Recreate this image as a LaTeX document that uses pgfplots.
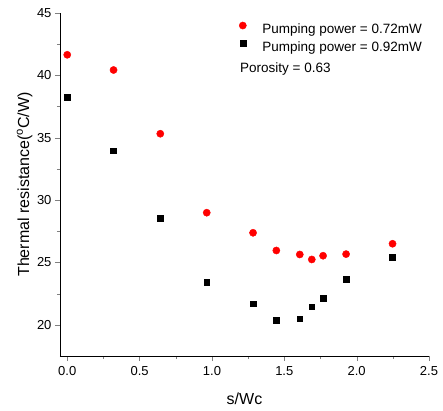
\documentclass[border=0pt]{standalone}
\usepackage{pgfplots}
\pgfplotsset{compat=1.18}
\usepackage{fontspec}
\setmainfont{Liberation Sans}
\begin{document}
\begin{tikzpicture}
\begin{axis}[
  scale only axis,
  width=369pt, height=343pt,
  xmin=-0.05, xmax=2.5,
  ymin=17.5, ymax=45,
  axis x line*=bottom, axis y line*=left,
  tick align=outside,
  xtick={0,0.5,1,1.5,2,2.5},
  ytick={20,25,30,35,40,45},
  minor x tick num=1, minor y tick num=1,
  major tick length=5pt, minor tick length=3pt,
  /pgf/number format/assume math mode=true,
  tick label style={font=\fontsize{13}{15}\selectfont},
  xticklabel style={yshift=-2pt, /pgf/number format/.cd,fixed,fixed zerofill,precision=1},
  xlabel={s/Wc}, ylabel={Thermal resistance(\textsuperscript{o}C/W)},
  label style={font=\fontsize{16}{19}\selectfont},
  xlabel style={at={(axis description cs:0.5,0)}, anchor=north, yshift=-33pt},
  ylabel style={at={(axis description cs:0,0.5)}, anchor=south, yshift=24pt},
  legend image code/.code={\draw[mark repeat=2,mark phase=2,#1] plot coordinates {(-4pt,4.3pt) (0pt,4.3pt) (4pt,4.3pt)};},
  legend style={draw=none, fill=none, font=\fontsize{13.5}{16}\selectfont,
    inner sep=0pt, nodes={inner sep=0pt},
    /tikz/every odd column/.append style={column sep=16pt},
    at={(axis cs:1.187,44.3)}, anchor=north west, row sep=4.5pt},
  legend cell align=left,
]
\addplot[only marks, mark=*, mark size=3.6pt, color=red] coordinates {
(0.00,41.65) (0.32,40.43) (0.643,35.32) (0.964,28.99) (1.284,27.38)
(1.445,25.96) (1.607,25.64) (1.69,25.24) (1.768,25.54) (1.927,25.67) (2.248,26.5)
};
\addlegendentry{Pumping power = 0.72mW}
\addplot[only marks, mark=square*, mark size=2.9pt, color=black] coordinates {
(0.00,38.26) (0.32,33.96) (0.643,28.56) (0.964,23.43) (1.284,21.69)
(1.445,20.38) (1.607,20.49) (1.69,21.45) (1.768,22.14) (1.927,23.67) (2.248,25.4)
};
\addlegendentry{Pumping power = 0.92mW}
\node[anchor=base west, font=\fontsize{13.5}{16}\selectfont, inner sep=0pt] at (axis cs:1.194,40.23) {Porosity = 0.63};
\end{axis}
\path (-60pt,-54pt) rectangle (383pt,356pt);
\end{tikzpicture}
\end{document}
